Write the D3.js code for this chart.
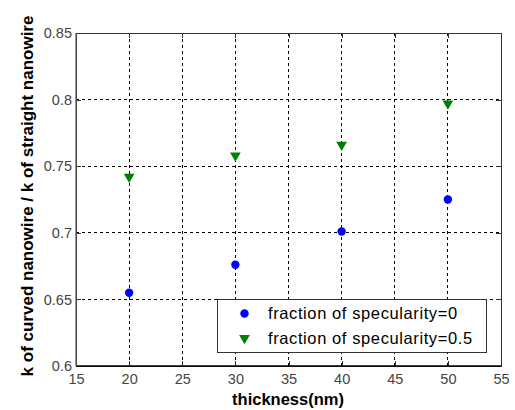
<!DOCTYPE html>
<html>
<head>
<meta charset="utf-8">
<script src="https://cdn.jsdelivr.net/npm/d3@7"></script>
<style>
  body { margin: 0; background: #fff; }
  svg { display: block; font-family: "Liberation Sans", Arial, sans-serif; }
</style>
</head>
<body>
<svg id="chart" width="515" height="410"></svg>
<script>
// values
var thickness = [20, 30, 40, 50];
var spec0 = [0.655, 0.676, 0.701, 0.725];
var spec05 = [0.742, 0.758, 0.766, 0.797];
var seriesNames = ["fraction of specularity=0", "fraction of specularity=0.5"];
var xTicks = [15, 20, 25, 30, 35, 40, 45, 50, 55];
var yTicks = [0.6, 0.65, 0.7, 0.75, 0.8, 0.85];

var svg = d3.select("#chart");
var m = { left: 76, top: 33, right: 501, bottom: 366 };

var x = d3.scaleLinear().domain([15, 55]).range([m.left, m.right]);
var y = d3.scaleLinear().domain([0.6, 0.85]).range([m.bottom, m.top]);

// grid
var grid = svg.append("g").attr("stroke", "#000").attr("stroke-width", 1)
  .attr("stroke-dasharray", "3,3").attr("shape-rendering", "crispEdges");
grid.selectAll("line.vx").data(xTicks.slice(1, -1)).enter().append("line")
  .attr("x1", function (d) { return x(d); }).attr("x2", function (d) { return x(d); })
  .attr("y1", m.top).attr("y2", m.bottom);
grid.selectAll("line.hy").data(yTicks.slice(1, -1)).enter().append("line")
  .attr("x1", m.left).attr("x2", m.right)
  .attr("y1", function (d) { return y(d); }).attr("y2", function (d) { return y(d); });

// axes with inward ticks
var xAxis = d3.axisBottom(x).tickValues(xTicks).tickSize(-5).tickPadding(8).tickFormat(d3.format("d"));
var yAxis = d3.axisLeft(y).tickValues(yTicks).tickSize(-5).tickPadding(4).tickFormat(function (d) { return d3.format("")(+d.toFixed(2)); });

var gx = svg.append("g").attr("transform", "translate(0," + m.bottom + ")").call(xAxis);
var gy = svg.append("g").attr("transform", "translate(" + m.left + ",0)").call(yAxis);
var gxTop = svg.append("g").attr("transform", "translate(0," + m.top + ")")
  .call(d3.axisTop(x).tickValues(xTicks).tickSize(-5).tickFormat(""));
var gyRight = svg.append("g").attr("transform", "translate(" + m.right + ",0)")
  .call(d3.axisRight(y).tickValues(yTicks).tickSize(-5).tickFormat(""));

[gx, gy, gxTop, gyRight].forEach(function (g) {
  g.select(".domain").remove();
  g.selectAll(".tick line").attr("stroke", "#333").attr("shape-rendering", "crispEdges");
  g.selectAll("text").attr("font-size", 14.5).attr("fill", "#444")
    .attr("font-family", "Liberation Sans, Arial, sans-serif");
});

// frame
svg.append("rect").attr("x", m.left).attr("y", m.top)
  .attr("width", m.right - m.left).attr("height", m.bottom - m.top)
  .attr("fill", "none").attr("stroke", "#333").attr("stroke-width", 1)
  .attr("shape-rendering", "crispEdges");
svg.append("line").attr("x1", m.left).attr("x2", m.right).attr("y1", m.bottom).attr("y2", m.bottom)
  .attr("stroke", "#000").attr("stroke-width", 1.5);
svg.append("line").attr("x1", m.left).attr("x2", m.left).attr("y1", m.top).attr("y2", m.bottom)
  .attr("stroke", "#555").attr("stroke-width", 1.2);

// markers
var tri = d3.symbol().type(d3.symbolTriangle).size(50);
function drawDots(g, vals) {
  g.selectAll("circle").data(vals).enter().append("circle")
    .attr("cx", function (d, i) { return x(thickness[i]); })
    .attr("cy", function (d) { return y(d); })
    .attr("r", 4.2).attr("fill", "#0000ff");
}
function drawTris(g, vals) {
  g.selectAll("path").data(vals).enter().append("path")
    .attr("d", tri)
    .attr("transform", function (d, i) { return "translate(" + x(thickness[i]) + "," + y(d) + ") rotate(180)"; })
    .attr("fill", "#008000");
}
drawDots(svg.append("g"), spec0);
drawTris(svg.append("g"), spec05);

// legend
var lg = svg.append("g");
lg.append("rect").attr("x", 217.5).attr("y", 299.5).attr("width", 269).attr("height", 53)
  .attr("fill", "#fff").attr("stroke", "#333").attr("stroke-width", 1);
lg.append("circle").attr("cx", 244.5).attr("cy", 313.5).attr("r", 4.2).attr("fill", "#0000ff");
lg.append("path").attr("d", tri).attr("transform", "translate(244.5,338) rotate(180)").attr("fill", "#008000");
lg.selectAll("text").data(seriesNames).enter().append("text")
  .attr("x", 268).attr("y", function (d, i) { return 319 + i * 25; })
  .attr("font-size", 16.5).attr("letter-spacing", 0.6).attr("fill", "#000").text(function (d) { return d; });

// axis labels
svg.append("text").attr("x", 288).attr("y", 405)
  .attr("text-anchor", "middle").attr("font-size", 16.5).attr("font-weight", "bold")
  .text("thickness(nm)");
svg.append("text").attr("transform", "translate(33,196) rotate(-90)")
  .attr("text-anchor", "middle").attr("font-size", 17).attr("font-weight", "bold")
  .text("k of curved nanowire / k of straight nanowire");
</script>
</body>
</html>
